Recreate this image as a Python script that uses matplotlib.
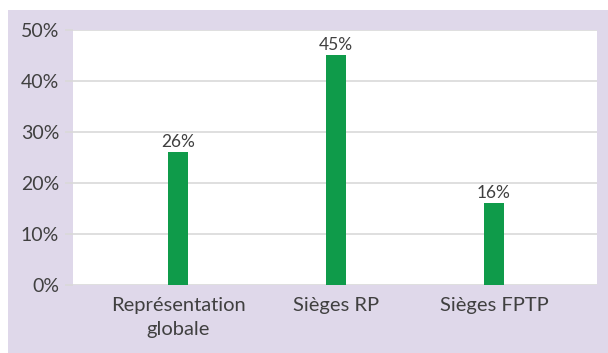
import matplotlib.pyplot as plt
from matplotlib.patches import Rectangle

# shares of women, by type of seat
categories = ["Représentation\nglobale", "Sièges RP", "Sièges FPTP"]
values = [26, 45, 16]
yticks = [0, 10, 20, 30, 40, 50]

lavender = "#DFD8EA"
green = "#0F9B4A"
grid_grey = "#D9D9D9"
text_col = "#404040"

plt.rcParams["font.family"] = ["Lato", "DejaVu Sans"]

fig = plt.figure(figsize=(6.08, 3.53), dpi=100)
fig.patch.set_facecolor("white")
fig.patches.append(Rectangle((8 / 608, 0), 1, 343 / 353, transform=fig.transFigure,
                             facecolor=lavender, edgecolor="none", zorder=-1))

ax = fig.add_axes([73 / 608, 68 / 353, 524 / 608, 255 / 353])
ax.set_facecolor("white")

x = range(len(categories))
bars = ax.bar(x, values, width=0.127, color=green, zorder=3)
ax.bar_label(bars, labels=[f"{v}%" for v in values], padding=2,
             fontsize=12.5, color=text_col)

ax.set_xlim(-0.665, 2.652)
ax.set_ylim(0, 50)
ax.set_yticks(yticks)
ax.set_yticklabels([f"{t}%" for t in yticks])
ax.set_xticks(list(x))
ax.set_xticklabels(categories, linespacing=1.5)

ax.yaxis.grid(True, color=grid_grey, linewidth=1.2)
ax.set_axisbelow(True)
for s in ax.spines.values():
    s.set_visible(False)
ax.tick_params(axis="y", length=6, color=grid_grey, width=1.2, pad=4,
               labelsize=14, labelcolor=text_col)
ax.tick_params(axis="x", length=0, pad=9, labelsize=14.5, labelcolor=text_col)

fig.savefig("out.png", dpi=100)
